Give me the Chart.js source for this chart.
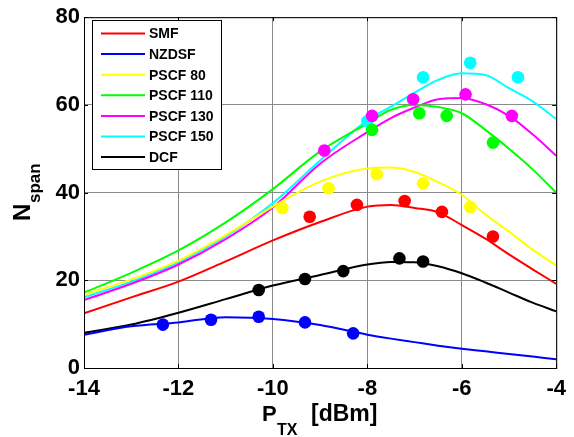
<!DOCTYPE html>
<html>
<head>
<meta charset="utf-8">
<script src="https://cdn.jsdelivr.net/npm/chart.js@4"></script>
<style>
  body { margin: 0; background: #fff; }
  canvas { display: block; }
</style>
</head>
<body>
<canvas id="myChart" width="574" height="437"></canvas>
<script>
// Series names and colours
const SERIES = ['SMF', 'NZDSF', 'PSCF 80', 'PSCF 110', 'PSCF 130', 'PSCF 150', 'DCF'];
const COLORS = ['#ff0000', '#0000ff', '#ffff00', '#00ff00', '#ff00ff', '#00ffff', '#000000'];

// Fitted curves at these P_TX values
const curveX = [-14, -13, -12, -11, -10, -9, -8, -7.5, -7, -6.5, -6, -5.5, -5, -4.5, -4];
const smfCurve   = [12.5, 16.1, 19.7, 24.3, 29.1, 33.3, 36.8, 37.2, 36.5, 35.5, 32.6, 29.5, 25.9, 22.5, 19.2];
const nzdsfCurve = [7.6, 9.5, 10.4, 11.6, 11.2, 9.8, 7.6, 6.7, 5.9, 5.1, 4.4, 3.8, 3.2, 2.6, 2.0];
const pscf80Curve  = [16.7, 20.2, 24.5, 30.3, 36.8, 42.5, 45.5, 45.7, 44.7, 42.4, 39.5, 35.0, 31.1, 27.0, 23.4];
const pscf110Curve = [17.2, 21.7, 26.8, 33.2, 40.8, 49.4, 55.8, 58.9, 60.0, 59.5, 58.1, 54.3, 50.0, 45.3, 40.0];
const pscf130Curve = [15.5, 19.2, 23.6, 29.4, 36.6, 46.6, 53.8, 57.0, 59.4, 61.3, 61.6, 60.2, 57.5, 53.3, 48.4];
const pscf150Curve = [16.1, 19.7, 24.1, 30.0, 37.6, 47.3, 56.5, 59.6, 62.8, 65.7, 67.2, 66.8, 63.8, 60.8, 56.8];
const dcfCurve   = [8.0, 9.9, 12.6, 15.7, 18.8, 21.2, 23.6, 24.2, 24.1, 23.2, 21.6, 19.5, 17.2, 14.9, 12.9];

// Measured points
const smfX = [-9.22, -8.22, -7.21, -6.42, -5.34];
const smfY = [34.5, 37.2, 38.1, 35.6, 30.0];
const nzdsfX = [-12.33, -11.31, -10.30, -9.32, -8.30];
const nzdsfY = [9.9, 11.0, 11.7, 10.4, 7.9];
const pscf80X = [-9.80, -8.82, -7.80, -6.82, -5.82];
const pscf80Y = [36.5, 41.0, 44.2, 42.1, 36.7];
const pscf110X = [-7.90, -6.90, -6.32, -5.34];
const pscf110Y = [54.3, 58.1, 57.5, 51.4];
const pscf130X = [-8.91, -7.90, -7.03, -5.92, -4.94];
const pscf130Y = [49.6, 57.5, 61.3, 62.4, 57.5];
const pscf150X = [-8.00, -6.82, -5.82, -4.81];
const pscf150Y = [56.3, 66.3, 69.6, 66.3];
const dcfX = [-10.30, -9.32, -8.51, -7.32, -6.82];
const dcfY = [17.8, 20.3, 22.1, 25.0, 24.3];

// Axis ticks
const xTicks = [-14, -12, -10, -8, -6, -4];
const yTicks = [0, 20, 40, 60, 80];

const curves = [smfCurve, nzdsfCurve, pscf80Curve, pscf110Curve, pscf130Curve, pscf150Curve, dcfCurve];
const pointsX = [smfX, nzdsfX, pscf80X, pscf110X, pscf130X, pscf150X, dcfX];
const pointsY = [smfY, nzdsfY, pscf80Y, pscf110Y, pscf130Y, pscf150Y, dcfY];

const FONT = "'Liberation Sans', Arial, sans-serif";

function toXY(xs, ys) {
    return xs.map((x, i) => ({ x: x, y: ys[i] }));
}

// Scatter datasets first so they are drawn on top of the curves
const datasets = [];
SERIES.forEach((name, i) => {
    datasets.push({
        label: name + ' meas',
        data: toXY(pointsX[i], pointsY[i]),
        showLine: false,
        pointRadius: 6.3,
        pointBorderWidth: 0,
        pointBackgroundColor: COLORS[i],
        pointBorderColor: COLORS[i]
    });
});
SERIES.forEach((name, i) => {
    datasets.push({
        label: name,
        data: toXY(curveX, curves[i]),
        showLine: true,
        borderColor: COLORS[i],
        borderWidth: 2,
        pointRadius: 0,
        cubicInterpolationMode: 'monotone'
    });
});

// Box, inner ticks, axis titles and legend
const matlabPlugin = {
    id: 'matlab',
    afterDraw(chart) {
        const ctx = chart.ctx;
        const a = chart.chartArea;
        const xs = chart.scales.x;
        const ys = chart.scales.y;
        ctx.save();

        ctx.strokeStyle = '#000';
        ctx.lineWidth = 1;
        ctx.strokeRect(a.left + 0.5, a.top + 0.5, a.right - a.left, a.bottom - a.top);
        ctx.beginPath();
        xTicks.forEach(v => {
            const px = Math.round(xs.getPixelForValue(v)) + 0.5;
            ctx.moveTo(px, a.bottom); ctx.lineTo(px, a.bottom - 4);
            ctx.moveTo(px, a.top); ctx.lineTo(px, a.top + 4);
        });
        yTicks.forEach(v => {
            const py = Math.round(ys.getPixelForValue(v)) + 0.5;
            ctx.moveTo(a.left, py); ctx.lineTo(a.left + 4, py);
            ctx.moveTo(a.right, py); ctx.lineTo(a.right - 4, py);
        });
        ctx.stroke();

        // x title: P_TX [dBm]
        ctx.fillStyle = '#000';
        ctx.textBaseline = 'alphabetic';
        ctx.textAlign = 'left';
        ctx.font = 'bold 22px ' + FONT;
        ctx.fillText('P', 262, 421);
        ctx.font = 'bold 16px ' + FONT;
        ctx.fillText('TX', 277, 435);
        ctx.font = 'bold 23px ' + FONT;
        ctx.fillText('[dBm]', 311, 421);

        // y title: N_span
        ctx.save();
        ctx.translate(30, 221);
        ctx.rotate(-Math.PI / 2);
        ctx.font = 'bold 24px ' + FONT;
        ctx.fillText('N', 0, 0);
        ctx.font = 'bold 17px ' + FONT;
        ctx.fillText('span', 18, 10);
        ctx.restore();

        // legend
        const lx = 92, ly = 20, lw = 129, lh = 149;
        ctx.fillStyle = '#fff';
        ctx.fillRect(lx, ly, lw, lh);
        ctx.strokeStyle = '#000';
        ctx.strokeRect(lx + 0.5, ly + 0.5, lw, lh);
        ctx.font = 'bold 14px ' + FONT;
        ctx.textBaseline = 'middle';
        SERIES.forEach((name, i) => {
            const y = 33.5 + i * 20.6;
            ctx.strokeStyle = COLORS[i];
            ctx.lineWidth = 2;
            ctx.beginPath();
            ctx.moveTo(101, y);
            ctx.lineTo(145, y);
            ctx.stroke();
            ctx.fillStyle = '#000';
            ctx.fillText(name, 149, y + 1);
        });
        ctx.restore();
    }
};

const myChart = new Chart(document.getElementById('myChart'), {
    type: 'scatter',
    data: { datasets: datasets },
    options: {
        responsive: false,
        animation: false,
        layout: { padding: { left: 0, top: 13, right: 11, bottom: 0 } },
        plugins: {
            legend: { display: false },
            tooltip: { enabled: false }
        },
        scales: {
            x: {
                type: 'linear',
                min: -14,
                max: -4,
                afterFit: s => { s.height = 69; },
                afterBuildTicks: s => { s.ticks = xTicks.map(v => ({ value: v })); },
                ticks: {
                    padding: 8,
                    color: '#000',
                    font: { family: FONT, size: 22, weight: 'bold' },
                    callback: v => String(v)
                },
                grid: { color: '#8a8a8a', drawTicks: false },
                border: { display: true, color: '#000' }
            },
            y: {
                type: 'linear',
                min: 0,
                max: 80,
                afterFit: s => { s.width = 84; },
                afterBuildTicks: s => { s.ticks = yTicks.map(v => ({ value: v })); },
                ticks: {
                    padding: 4,
                    color: '#000',
                    font: { family: FONT, size: 22, weight: 'bold' },
                    callback: v => String(v)
                },
                grid: { color: '#8a8a8a', drawTicks: false },
                border: { display: true, color: '#000' }
            }
        }
    },
    plugins: [matlabPlugin]
});
</script>
</body>
</html>
